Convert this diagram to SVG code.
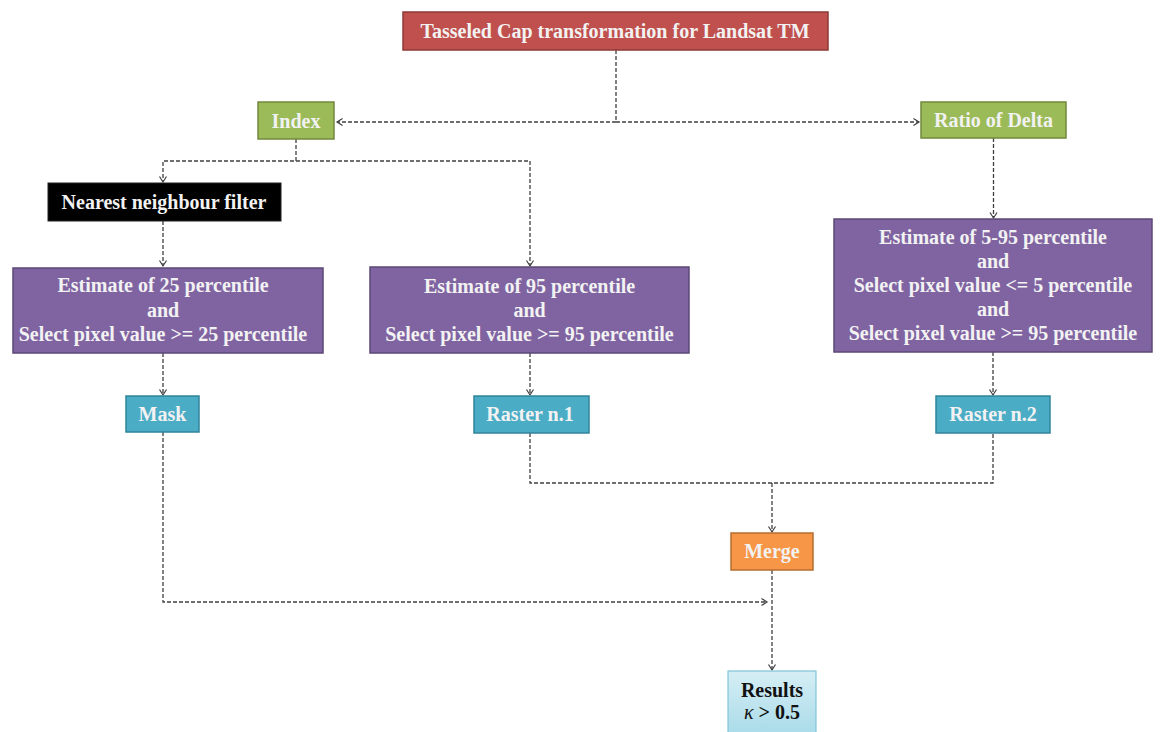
<svg xmlns="http://www.w3.org/2000/svg" width="1161" height="732" viewBox="0 0 1161 732">
<style>
  text { font-family: "Liberation Serif", "Times New Roman", serif; font-weight: bold; font-size: 20px; text-anchor: middle; fill: #f2f2f2; }
  .red { fill: #c0504d; stroke: #8c3836; stroke-width: 1.5; }
  .green { fill: #9bbb59; stroke: #71893f; stroke-width: 1.5; }
  .black { fill: #000000; stroke: #222222; stroke-width: 1; }
  .purple { fill: #8064a2; stroke: #5c4776; stroke-width: 1.5; }
  .teal { fill: #4bacc6; stroke: #31849b; stroke-width: 1.5; }
  .orange { fill: #f79646; stroke: #b66d31; stroke-width: 1.5; }
  .res { fill: url(#resGrad); stroke: #7fc4d8; stroke-width: 1.2; }
  .dark { fill: #111111; }
  .edge { fill: none; stroke: #404040; stroke-width: 1.3; stroke-dasharray: 4 2; }
</style>
<defs>
  <linearGradient id="resGrad" x1="0" y1="0" x2="0" y2="1">
    <stop offset="0" stop-color="#d6eef5"/>
    <stop offset="1" stop-color="#a9dbe9"/>
  </linearGradient>
  <marker id="arr" markerUnits="userSpaceOnUse" markerWidth="10" markerHeight="10" refX="6" refY="4" orient="auto">
    <path d="M0.5,0.5 L6,4 L0.5,7.5" fill="none" stroke="#404040" stroke-width="1.2"/>
  </marker>
</defs>
<rect width="1161" height="732" fill="#ffffff"/>

<g id="connectors">
  <path class="edge" d="M616,50 V122 H337" marker-end="url(#arr)"/>
  <path class="edge" d="M616,122 H919" marker-end="url(#arr)"/>
  <path class="edge" d="M296,139 V161 H163 V182" marker-end="url(#arr)"/>
  <path class="edge" d="M296,161 H530 V266" marker-end="url(#arr)"/>
  <path class="edge" d="M163,221 V266" marker-end="url(#arr)"/>
  <path class="edge" d="M993.5,138 V218" marker-end="url(#arr)"/>
  <path class="edge" d="M163,353 V395" marker-end="url(#arr)"/>
  <path class="edge" d="M530,353 V395" marker-end="url(#arr)"/>
  <path class="edge" d="M993,352 V395" marker-end="url(#arr)"/>
  <path class="edge" d="M530,433 V483 H993 V433"/>
  <path class="edge" d="M772,483 V532" marker-end="url(#arr)"/>
  <path class="edge" d="M163,432 V602 H767" marker-end="url(#arr)"/>
  <path class="edge" d="M772,570 V670" marker-end="url(#arr)"/>
</g>

<g id="title">
  <rect class="red" x="403" y="12" width="425" height="38"/>
  <text x="615" y="38">Tasseled Cap transformation for Landsat TM</text>
</g>
<g id="index">
  <rect class="green" x="258" y="102" width="76" height="37"/>
  <text x="296" y="128">Index</text>
</g>
<g id="ratio">
  <rect class="green" x="921" y="102" width="145" height="36"/>
  <text x="993.5" y="127">Ratio of Delta</text>
</g>
<g id="nnfilter">
  <rect class="black" x="48" y="183" width="233" height="38"/>
  <text x="164" y="209">Nearest neighbour filter</text>
</g>
<g id="est25">
  <rect class="purple" x="13" y="268" width="310" height="85"/>
  <text x="163" y="292">Estimate of 25 percentile</text>
  <text x="163" y="317">and</text>
  <text x="163" y="341">Select pixel value &gt;= 25 percentile</text>
</g>
<g id="est95">
  <rect class="purple" x="370" y="267" width="319" height="86"/>
  <text x="529.5" y="293">Estimate of 95 percentile</text>
  <text x="529.5" y="317">and</text>
  <text x="529.5" y="341">Select pixel value &gt;= 95 percentile</text>
</g>
<g id="est595">
  <rect class="purple" x="834" y="219" width="318" height="133"/>
  <text x="993" y="244">Estimate of 5-95 percentile</text>
  <text x="993" y="268">and</text>
  <text x="993" y="292">Select pixel value &lt;= 5 percentile</text>
  <text x="993" y="316">and</text>
  <text x="993" y="340">Select pixel value &gt;= 95 percentile</text>
</g>
<g id="mask">
  <rect class="teal" x="126" y="396" width="73" height="36"/>
  <text x="162.5" y="421">Mask</text>
</g>
<g id="raster1">
  <rect class="teal" x="474" y="396" width="115" height="37"/>
  <text x="530" y="421">Raster n.1</text>
</g>
<g id="raster2">
  <rect class="teal" x="936" y="396" width="114" height="37"/>
  <text x="993" y="421">Raster n.2</text>
</g>
<g id="merge">
  <rect class="orange" x="731" y="533" width="82" height="37"/>
  <text x="772" y="558">Merge</text>
</g>
<g id="results">
  <rect class="res" x="728" y="671" width="88" height="64"/>
  <text class="dark" x="772" y="697">Results</text>
  <text class="dark" x="772" y="719"><tspan font-style="italic" font-weight="normal">κ</tspan> &gt; 0.5</text>
</g>
</svg>
